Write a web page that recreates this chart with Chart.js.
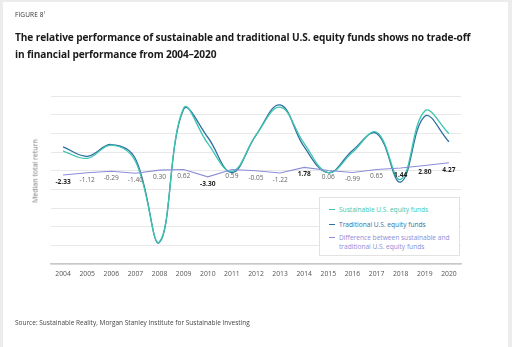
<!DOCTYPE html>
<html>
<head>
<meta charset="utf-8">
<script src="https://cdn.jsdelivr.net/npm/chart.js@4.4.1/dist/chart.umd.min.js"></script>
<style>
  html,body{margin:0;padding:0;}
  body{width:512px;height:347px;background:#ececec;position:relative;overflow:hidden;font-family:"Open Sans","Noto Sans",sans-serif;}
  #panel{position:absolute;left:3px;top:2px;width:505px;height:345px;background:#fff;}
  #cv{position:absolute;left:0;top:0;}
  .fig{position:absolute;left:15px;top:10px;font-size:6.5px;color:#333;letter-spacing:0.1px;}
  .fig sup{font-size:4px;}
  .title{position:absolute;left:15px;top:29px;font-size:9.8px;font-weight:700;color:#1a1a1a;line-height:16.5px;white-space:nowrap;letter-spacing:-0.12px;}
  .src{position:absolute;left:15px;top:318px;font-size:6.5px;color:#444;white-space:nowrap;}
  .ytitle{position:absolute;left:35px;top:171px;transform:translate(-50%,-50%) rotate(-90deg);font-size:7px;color:#777;white-space:nowrap;}
  #legend{position:absolute;left:319px;top:197px;width:141px;height:59px;background:#fff;border:1px solid #e2e2e2;box-sizing:border-box;font-size:6.6px;line-height:9px;}
  .li{position:absolute;left:9px;white-space:nowrap;}
  .li i{position:absolute;left:0;top:4px;width:6px;height:1.2px;}
  .li span{position:absolute;left:10px;top:0;}
</style>
</head>
<body>
<div id="panel"></div>
<canvas id="cv" width="512" height="347"></canvas>
<div class="fig">FIGURE 8<sup>1</sup></div>
<div class="title" id="title">The relative performance of sustainable and traditional U.S. equity funds shows no trade-off<br>in financial performance from 2004–2020</div>
<div class="ytitle">Median total return</div>
<div id="legend">
  <div class="li" style="top:7px;color:#3cc6ae"><i style="background:#3cc6ae"></i><span>Sustainable U.S. equity funds</span></div>
  <div class="li" style="top:22px;color:#2f6fa3"><i style="background:#2f6fa3"></i><span>Traditional U.S. equity funds</span></div>
  <div class="li" style="top:35px;color:#8a8ed8"><i style="background:#8a8ed8"></i><span>Difference between sustainable and<br>traditional U.S. equity funds</span></div>
</div>
<div class="src">Source: Sustainable Reality, Morgan Stanley Institute for Sustainable Investing</div>
<script>
const years = ['2004','2005','2006','2007','2008','2009','2010','2011','2012','2013','2014','2015','2016','2017','2018','2019','2020'];
const sustainable = [10.5, 6.6, 13.7, 5.0, -38.1, 33.5, 14.6, -0.4, 19.0, 34.0, 14.5, -1.0, 9.8, 20.6, -4.7, 32.0, 19.8];
const traditional = [12.8, 7.7, 14.0, 6.4, -38.4, 32.9, 17.9, -1.0, 19.05, 35.2, 12.7, -1.1, 10.8, 20.0, -6.1, 29.2, 15.5];
const difference = [-2.33, -1.12, -0.29, -1.40, 0.30, 0.62, -3.30, 0.59, -0.05, -1.22, 1.78, 0.06, -0.99, 0.65, 1.44, 2.80, 4.27];
const boldYears = ['2004','2010','2014','2018','2019','2020'];
const yTicks = [-50, -40, -30, -20, -10, 0, 10, 20, 30, 40];

// fit first title line to the reference width (~456px)
(function(){
  const t = document.getElementById('title');
  const r = document.createRange();
  r.setStart(t.firstChild, 0); r.setEnd(t.firstChild, t.firstChild.length);
  const w = r.getBoundingClientRect().width;
  if (w > 0) t.style.fontSize = (9.8 * 456 / w).toFixed(2) + 'px';
})();

const diffLabels = {
  id: 'diffLabels',
  afterDatasetsDraw(chart) {
    const meta = chart.getDatasetMeta(2);
    const ctx = chart.ctx;
    ctx.save();
    ctx.textAlign = 'center';
    ctx.textBaseline = 'middle';
    meta.data.forEach((pt, i) => {
      const bold = boldYears.includes(years[i]);
      ctx.font = (bold ? '700 ' : '400 ') + '6.6px "Open Sans", sans-serif';
      ctx.fillStyle = bold ? '#1e1e1e' : '#666';
      ctx.fillText(difference[i].toFixed(2), pt.x, pt.y + 7);
    });
    ctx.restore();
  }
};

new Chart(document.getElementById('cv'), {
  type: 'line',
  data: {
    labels: years,
    datasets: [
      {label: 'Traditional U.S. equity funds', data: traditional, borderColor: '#2f6fa3', borderWidth: 1.3, tension: 0.4, pointRadius: 0, order: 2},
      {label: 'Sustainable U.S. equity funds', data: sustainable, borderColor: '#3cc6ae', borderWidth: 1.3, tension: 0.4, pointRadius: 0, order: 1},
      {label: 'Difference between sustainable and traditional U.S. equity funds', data: difference, borderColor: '#8a8ed8', borderWidth: 1.1, tension: 0, pointRadius: 0, order: 0}
    ]
  },
  options: {
    responsive: false,
    animation: false,
    layout: {padding: {left: 51, right: 51, top: 96, bottom: 63}},
    plugins: {legend: {display: false}, tooltip: {enabled: false}},
    scales: {
      x: {
        offset: true,
        grid: {display: false, drawTicks: false},
        border: {display: true, color: '#c9c9c9', width: 1.6},
        ticks: {color: '#555', font: {size: 6.8, family: '"Open Sans", sans-serif'}, padding: 6, maxRotation: 0, autoSkip: false},
        afterFit(s) { s.height = 20; }
      },
      y: {
        min: -50, max: 40,
        afterBuildTicks(s) { s.ticks = yTicks.map(v => ({value: v})); },
        grid: {color: '#e8e8e8', lineWidth: 1, drawTicks: false},
        border: {display: false},
        ticks: {display: false},
        afterFit(s) { s.width = 0; }
      }
    }
  },
  plugins: [diffLabels]
});
</script>
</body>
</html>
